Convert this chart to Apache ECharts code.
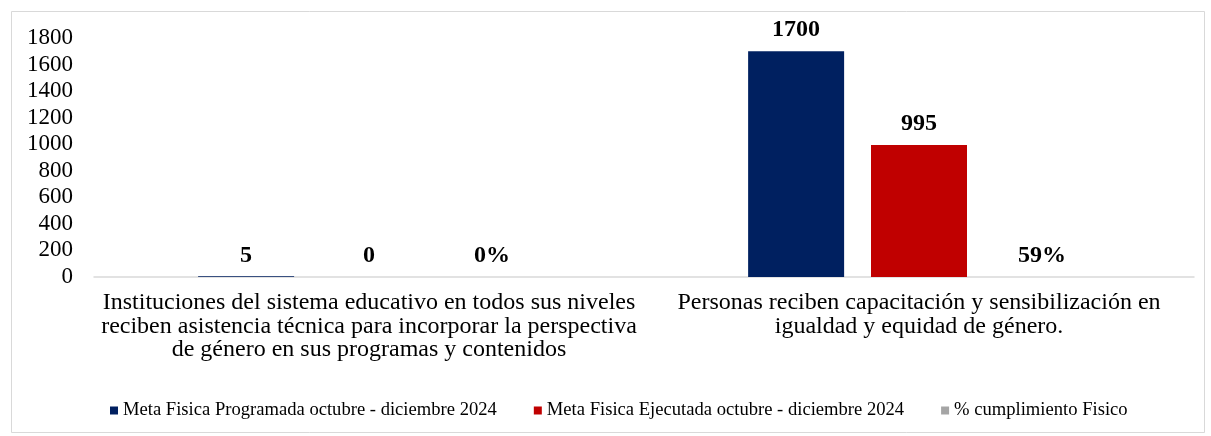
<!DOCTYPE html>
<html>
<head>
<meta charset="utf-8">
<script src="https://cdn.jsdelivr.net/npm/echarts@6/dist/echarts.min.js"></script>
<style>html,body{margin:0;padding:0;background:#fff}#c{width:1211px;height:436px}</style>
</head>
<body>
<div id="c"></div>
<script>
const categories = [
  'Instituciones del sistema educativo en todos sus niveles\nreciben asistencia técnica para incorporar la perspectiva\nde género en sus programas y contenidos',
  'Personas reciben capacitación y sensibilización en\nigualdad y equidad de género.'
];
const seriesNames = [
  'Meta Fisica Programada octubre - diciembre 2024',
  'Meta Fisica Ejecutada octubre - diciembre 2024',
  '% cumplimiento Fisico'
];
const metaProgramada = [5, 1700];
const metaEjecutada = [0, 995];
const cumplimiento = [0, 0.59];
const yTicks = [0, 200, 400, 600, 800, 1000, 1200, 1400, 1600, 1800];

const FONT = 'Liberation Serif';
const chart = echarts.init(document.getElementById('c'), null, {renderer: 'canvas'});
const lbl = {
  show: true, position: 'top', distance: 9,
  fontFamily: FONT, fontWeight: 'bold', fontSize: 24, color: '#000'
};
chart.setOption({
  backgroundColor: '#fff',
  animation: false,
  graphic: [{
    type: 'rect', left: 9, top: 9, shape: {width: 1193, height: 421},
    style: {fill: 'none', stroke: '#D9D9D9', lineWidth: 1}, z: -1
  }],
  legend: {
    bottom: 11, left: 105,
    itemWidth: 8, itemHeight: 8, itemGap: 37,
    icon: 'rect',
    textStyle: {fontFamily: FONT, fontSize: 18.6, color: '#000'},
    data: seriesNames
  },
  grid: {left: 94, right: 17, top: 38, bottom: 159},
  xAxis: {
    type: 'category', data: categories,
    axisLine: {lineStyle: {color: '#D9D9D9', width: 1.5}},
    axisTick: {show: false},
    axisLabel: {fontFamily: FONT, fontSize: 24, color: '#000', lineHeight: 23.5, margin: 14, interval: 0}
  },
  yAxis: {
    type: 'value', min: yTicks[0], max: yTicks[yTicks.length - 1], interval: 200,
    axisLine: {show: false}, axisTick: {show: false}, splitLine: {show: false},
    axisLabel: {fontFamily: FONT, fontSize: 23, color: '#000', margin: 21, formatter: v => String(v)}
  },
  series: [
    {name: seriesNames[0], type: 'bar', data: metaProgramada, barWidth: 96, barGap: '28%',
     itemStyle: {color: '#002060'}, label: lbl},
    {name: seriesNames[1], type: 'bar', data: metaEjecutada, barWidth: 96, barGap: '28%',
     itemStyle: {color: '#C00000'}, label: lbl},
    {name: seriesNames[2], type: 'bar', data: cumplimiento, barWidth: 96, barGap: '28%',
     itemStyle: {color: '#A5A5A5'},
     label: Object.assign({}, lbl, {formatter: p => Math.round(p.value * 100) + '%'})}
  ]
});
</script>
</body>
</html>
